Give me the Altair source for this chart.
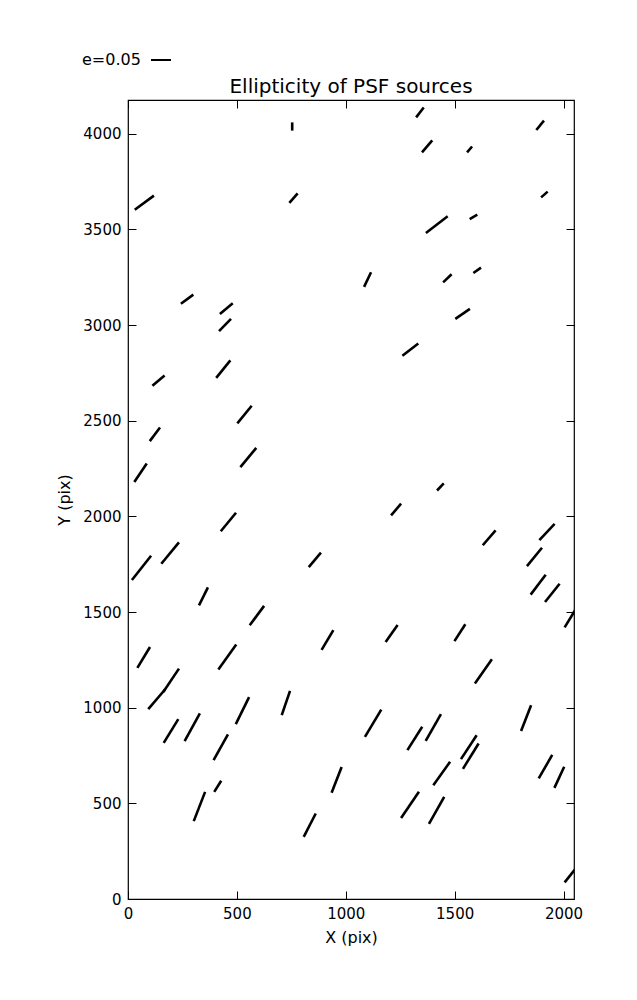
import altair as alt
import pandas as pd

# Segment endpoints (pixel coordinates of the detector)
x_start = [754, 31, 741, 1323, 1875, 1350, 1557, 1897, 1368, 1569, 1084, 1447, 1586,
           243, 422, 418, 112, 405, 502, 100, 516, 29, 1503, 1260, 1419, 1208,
           426, 18, 153, 830, 326, 559, 43, 415, 889, 162, 93, 1629, 1889, 1832,
           1849, 1915, 2005, 1183, 1499, 1593, 495, 706, 164, 260, 393, 396, 302,
           935, 807, 1088, 1805, 1283, 1367, 1529, 1538, 1886, 1958, 1402, 1254,
           1382, 2005]
y_start = [4059, 3602, 3638, 4085, 4019, 3902, 3902, 3667, 3481, 3554, 3199, 3223, 3272,
           3111, 3058, 2968, 2683, 2724, 2486, 2393, 2257, 2179, 3032, 2839, 2135, 2005,
           1922, 1667, 1752, 1735, 1535, 1431, 1208, 1199, 1302, 1082, 992, 1849, 1876, 1740,
           1591, 1552, 1420, 1343, 1348, 1126, 914, 961, 816, 825, 726, 560, 407,
           555, 325, 847, 878, 778, 826, 731, 680, 630, 581, 595, 423,
           393, 87]
x_end = [754, 119, 779, 1358, 1910, 1397, 1580, 1927, 1468, 1604, 1116, 1486, 1621,
         300, 481, 473, 168, 470, 568, 147, 589, 86, 1570, 1333, 1450, 1254,
         496, 106, 234, 886, 367, 625, 101, 497, 943, 234, 170, 1688, 1959, 1901,
         1918, 1982, 2053, 1238, 1549, 1671, 556, 744, 231, 330, 459, 428, 354,
         981, 862, 1163, 1851, 1351, 1437, 1601, 1610, 1948, 2003, 1479, 1336,
         1452, 2060]
y_end = [4016, 3676, 3688, 4137, 4068, 3965, 3933, 3697, 3568, 3577, 3276, 3265, 3300,
         3159, 3114, 3032, 2736, 2815, 2578, 2464, 2358, 2276, 3084, 2903, 2172, 2066,
         2019, 1794, 1864, 1810, 1629, 1532, 1317, 1330, 1405, 1204, 1095, 1927, 1961, 1836,
         1695, 1648, 1510, 1432, 1436, 1253, 1055, 1088, 940, 970, 860, 618, 560,
         690, 447, 990, 1013, 900, 966, 856, 813, 753, 691, 717, 560,
         534, 165]

x_ticks = [0, 500, 1000, 1500, 2000]
y_ticks = [0, 500, 1000, 1500, 2000, 2500, 3000, 3500, 4000]
x_max = 2048
y_max = 4176

df = pd.DataFrame({"x0": x_start, "y0": y_start, "x1": x_end, "y1": y_end})

FONT = "DejaVu Sans"
W, H = 446, 799

xs = alt.Scale(domain=[0, x_max], nice=False, zero=False)
ys = alt.Scale(domain=[0, y_max], nice=False, zero=False)

segments = alt.Chart(df).mark_rule(color="black", strokeWidth=2.6, clip=True).encode(
    x=alt.X("x0:Q", scale=xs, axis=alt.Axis(
        orient="bottom", values=x_ticks, format="d", title="X (pix)", offset=-8, tickSize=8,
        domain=False, grid=False, labelFlush=False, labelPadding=7,
        labelFontSize=15, titleFontSize=16, titleFontWeight="normal",
        titlePadding=8, labelFont=FONT, titleFont=FONT,
        labelColor="black", titleColor="black", tickColor="black")),
    x2="x1:Q",
    y=alt.Y("y0:Q", scale=ys, axis=alt.Axis(
        orient="left", values=y_ticks, format="d", title="Y (pix)", offset=-8, tickSize=8,
        domain=False, grid=False, labelPadding=7,
        labelFontSize=15, titleFontSize=16, titleFontWeight="normal",
        titlePadding=10, labelFont=FONT, titleFont=FONT,
        labelColor="black", titleColor="black", tickColor="black")),
    y2="y1:Q",
)

mirror = alt.Chart(df).mark_point(opacity=0).encode(
    x=alt.X("x0:Q", scale=xs, axis=alt.Axis(
        orient="top", values=x_ticks, title=None, labels=False, offset=-8,
        tickSize=8, domain=False, grid=False, tickColor="black")),
    y=alt.Y("y0:Q", scale=ys, axis=alt.Axis(
        orient="right", values=y_ticks, title=None, labels=False, offset=-8,
        tickSize=8, domain=False, grid=False, tickColor="black")),
)

annot = alt.Data(values=[{"key": "e=0.05", "title": "Ellipticity of PSF sources"}])
title_text = alt.Chart(annot).mark_text(
    align="center", baseline="alphabetic", fontSize=20, font=FONT, color="black"
).encode(x=alt.value(W / 2), y=alt.value(-7), text="title:N")
key_text = alt.Chart(annot).mark_text(
    align="left", baseline="alphabetic", fontSize=16, font=FONT, color="black"
).encode(x=alt.value(-46), y=alt.value(-35), text="key:N")
key_line = alt.Chart(annot).mark_rule(color="black", strokeWidth=2).encode(
    x=alt.value(23), x2=alt.value(43), y=alt.value(-40), y2=alt.value(-40))

chart = alt.layer(segments, mirror, title_text, key_text, key_line).resolve_axis(
    x="independent", y="independent"
).properties(
    width=W, height=H,
    autosize=alt.AutoSizeParams(type="none"),
    padding={"left": 120, "top": 92, "right": 55, "bottom": 93},
).configure_view(stroke="black", strokeWidth=1.2, fill="white")

chart.save("out.html", embed_options={"renderer": "svg", "actions": False})
